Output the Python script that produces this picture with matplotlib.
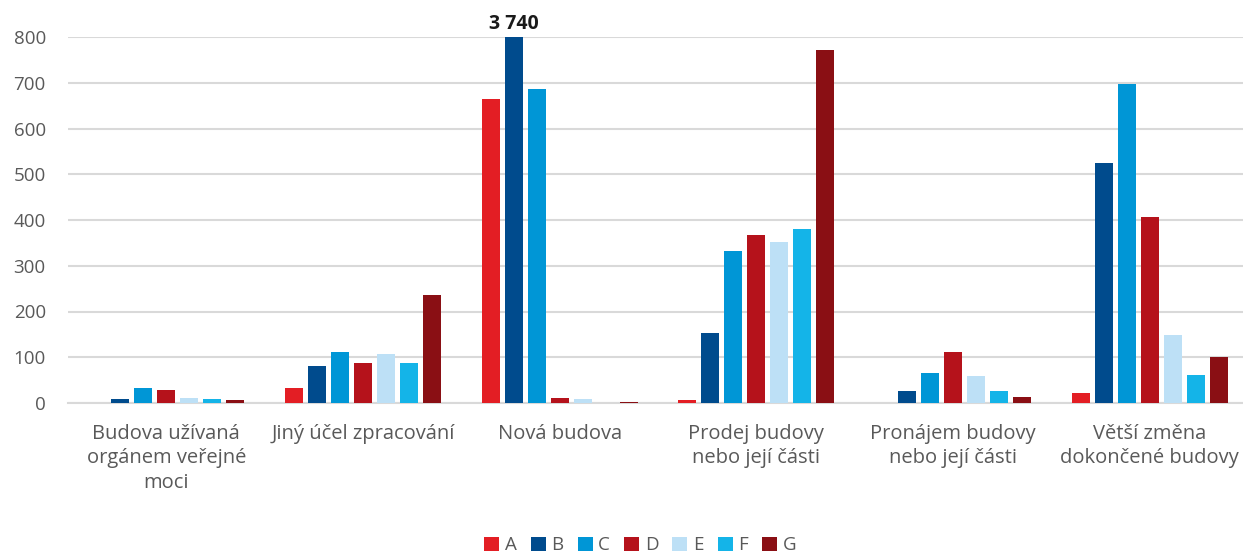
import numpy as np
import matplotlib.pyplot as plt

plt.rcParams['font.family'] = ['Open Sans', 'DejaVu Sans']

# data
categories = ["Budova užívaná\norgánem veřejné\nmoci", "Jiný účel zpracování", "Nová budova",
              "Prodej budovy\nnebo její části", "Pronájem budovy\nnebo její části",
              "Větší změna\ndokončené budovy"]
series = ["A", "B", "C", "D", "E", "F", "G"]
A = [0, 32, 664, 6, 0, 22]
B = [9, 81, 3740, 152, 26, 524]
C = [32, 112, 687, 332, 66, 697]
D = [28, 87, 12, 367, 111, 407]
E = [12, 108, 8, 353, 58, 149]
F = [9, 88, 0, 381, 27, 61]
G = [6, 235, 3, 772, 14, 101]
values = [A, B, C, D, E, F, G]
colors = ["#E31E24", "#004B8D", "#0096D6", "#B5121B", "#BDE0F6", "#14B4E8", "#8A0F14"]

fig = plt.figure(figsize=(12.43, 5.54), dpi=100)
ax = fig.add_axes([68 / 1243, 1 - 403 / 554, 1180 / 1243, 366 / 554])

x = np.arange(len(categories))
slot = 0.117
width = 0.092
for i, (name, vals, col) in enumerate(zip(series, values, colors)):
    ax.bar(x + (i - 3) * slot, vals, width, color=col, label=name, zorder=3)

# clipped value label
ax.text(x[2] - 2 * slot, 806, "3 740", ha="center", va="bottom", fontsize=14,
        fontweight="bold", color="#1a1a1a")

ax.set_xlim(-0.5, len(categories) - 0.5)
ax.set_ylim(0, 800)
ax.set_yticks(range(0, 801, 100))
ax.yaxis.grid(True, color="#D9D9D9", linewidth=1.5, zorder=0)
ax.set_axisbelow(True)
for s in ["top", "right", "left"]:
    ax.spines[s].set_visible(False)
ax.spines["bottom"].set_color("#D9D9D9")
ax.spines["bottom"].set_linewidth(1.5)
ax.tick_params(axis="both", length=0, colors="#595959", labelsize=13.5)
ax.tick_params(axis="y", pad=16)
ax.set_xticks(x)
ax.set_xticklabels(categories, fontsize=14.5, linespacing=1.3)
ax.tick_params(axis="x", pad=15)

ax.legend(loc="lower center", bbox_to_anchor=(0.485, -0.46), ncol=7, frameon=False,
          fontsize=13.5, handlelength=0.8, handleheight=0.8, handletextpad=0.3,
          columnspacing=0.75, labelcolor="#595959")

fig.savefig("out.png", dpi=100)
